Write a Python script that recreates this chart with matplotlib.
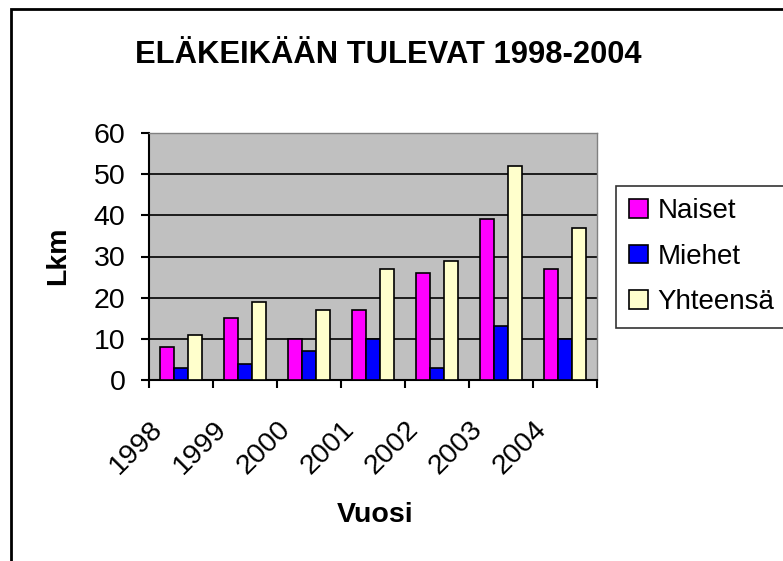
import matplotlib.pyplot as plt
import matplotlib.transforms as mtransforms
from matplotlib.patches import Rectangle
import numpy as np

plt.rcParams['font.family'] = ['Liberation Sans', 'DejaVu Sans']

# data
years = ['1998', '1999', '2000', '2001', '2002', '2003', '2004']
naiset = [8, 15, 10, 17, 26, 39, 27]
miehet = [3, 4, 7, 10, 3, 13, 10]
yhteensa = [11, 19, 17, 27, 29, 52, 37]

W, H = 783, 561
fig = plt.figure(figsize=(W / 100, H / 100), dpi=100)
ax = fig.add_axes([149 / W, 1 - 380 / H, 448 / W, 247 / H])
ax.set_facecolor('#C0C0C0')

x = np.arange(len(years))
bw = 0.22
ax.bar(x - bw, naiset, bw, color='#FF00FF', edgecolor='black', linewidth=1.2, label='Naiset', zorder=3)
ax.bar(x, miehet, bw, color='#0000FF', edgecolor='black', linewidth=1.2, label='Miehet', zorder=3)
ax.bar(x + bw, yhteensa, bw, color='#FFFFCC', edgecolor='black', linewidth=1.2, label='Yhteensä', zorder=3)

ax.set_xlim(-0.5, len(years) - 0.5)
ax.set_ylim(0, 60)
ax.set_yticks(range(0, 61, 10))
ax.yaxis.grid(True, color='black', linewidth=1.2, zorder=1)
ax.set_axisbelow(True)

ax.set_xticks(x)
ax.set_xticklabels(years, rotation=45, ha='right', fontsize=20.5)
ax.set_xticks(np.arange(-0.5, len(years)), minor=True)
ax.tick_params(axis='x', which='major', length=0, pad=26)
ax.tick_params(axis='x', which='minor', length=6, width=1.5, direction='out')
ax.tick_params(axis='y', length=6, width=1.5, direction='out', pad=11, labelsize=20.5)
offset = mtransforms.ScaledTranslation(-0.13, 0, fig.dpi_scale_trans)
for lab in ax.get_xticklabels():
    lab.set_transform(lab.get_transform() + offset)

for s in ['left', 'bottom']:
    ax.spines[s].set_linewidth(1.5)
    ax.spines[s].set_color('black')
for s in ['top', 'right']:
    ax.spines[s].set_linewidth(1)
    ax.spines[s].set_color('#808080')

fig.text(388 / W, 1 - 55 / H, 'ELÄKEIKÄÄN TULEVAT 1998-2004', ha='center', va='center',
         fontsize=22.2, fontweight='bold')
fig.text(58 / W, 1 - 256 / H, 'Lkm', ha='center', va='center', rotation=90,
         fontsize=20.5, fontweight='bold')
fig.text(375 / W, 1 - 515 / H, 'Vuosi', ha='center', va='center',
         fontsize=20.5, fontweight='bold')

leg = fig.legend(loc='upper left', bbox_to_anchor=(616 / W, 1 - 186 / H), fontsize=20,
                 frameon=True, fancybox=False, borderpad=0.45, labelspacing=0.7,
                 handlelength=0.7, handleheight=0.65, handletextpad=0.35,
                 borderaxespad=0)
leg.get_frame().set_edgecolor('black')
leg.get_frame().set_linewidth(1.2)

# outer chart border (cropped on the right and bottom)
fig.patches.append(Rectangle((11 / W, -0.1), 1.2, 1 - 9 / H + 0.1, transform=fig.transFigure,
                             fill=False, edgecolor='black', linewidth=2))

fig.savefig('out.png', dpi=100)
